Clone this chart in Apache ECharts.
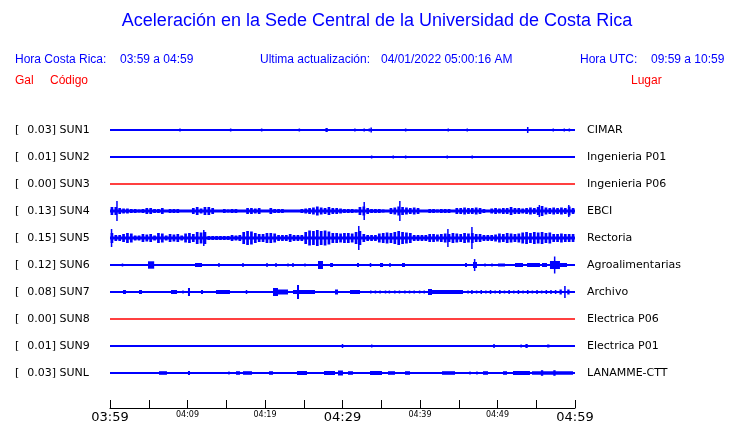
<!DOCTYPE html>
<html><head><meta charset="utf-8">
<script src="https://cdn.jsdelivr.net/npm/echarts@6/dist/echarts.min.js"></script>
<style>html,body{margin:0;padding:0;background:#fff}#c{width:740px;height:423px}</style>
</head><body><div id="c"></div>
<script>
// ---------- data ----------
const stations = ['SUN1','SUN2','SUN3','SUN4','SUN5','SUN6','SUN7','SUN8','SUN9','SUNL'];
const peakGal = ['0.03','0.01','0.00','0.13','0.15','0.12','0.08','0.00','0.01','0.03'];
const places = ['CIMAR','Ingenieria P01','Ingenieria P06','EBCI','Rectoria','Agroalimentarias','Archivo','Electrica P06','Electrica P01','LANAMME-CTT'];
const tickLabels = ['03:59','','04:09','','04:19','','04:29','','04:39','','04:49','','04:59'];
const majorLabels = ['03:59','04:29','04:59'];

// envelope (half amplitude) every 0.5 minute
const envStep = 0.5;
const sun4Env = [4,4,3,2.5,2.5,2,2,1.5,2,3, 3,2,2,3,0.8,2,2,2,0.8,0.8, 0.8,3,4,2.5,4,4,3,0.8,0.8,2,
  1.5,2,2,0.8,0.8,3,3,2.5,3,1, 1,3,2,2,2,0.8,0.8,0.8,0.8,2, 2.5,3,3.5,4.5,3.5,3,4,3,3,2.5,
  2,2,2,1.5,4,4.5,3,2,2,2, 1.5,0.8,3,3.5,4.5,4,3.5,3,3.5,3, 0.8,0.8,2,2,1.5,2,2,2,1,3,
  3,3.5,3,3,3.5,3,2,1,2.5,3, 2.5,3,3,4,3,3,2.5,3,3.5,3, 4,5,3.5,3,3.5,3,3.5,3,4.5,3];
const sun5Env = [5,3,3,4,5,4.5,2.5,2.5,4,3.5, 4,2.5,5,4.5,2.5,4,3.5,4,2.5,4.5, 5,4,6,5.5,6,2,2,2,2,2,
  2,3,2.5,3,6,7,6.5,5,4,4, 5,5,4.5,3,3,3,4,3,3,3, 6,7.5,7,8,7,7.5,6.5,5,5,4.5,
  5,5,4.5,6,7,4,3,3,3,4.5, 5,5.5,5,6,7,6,5.5,5,3,3, 3,3,4,4,3.5,4,4.5,4,5,4.5,
  4,5,4.5,5,4,4,3,3,3,3.5, 4.5,4,5,4.5,4,4.5,5.5,6,5,6, 5.5,6,5,5.5,4,4,4.5,4,4,4];
const sun4Spikes = [[0.9,10],[32.8,9],[37.4,10],[55.4,6],[59.2,6]];
const sun5Spikes = [[0.2,9],[12.1,8],[32.1,12],[43.6,9],[46.7,11]];

// sparse events: [start minute, end minute, half amplitude]
const sun1Events = [[9.03,9.03,1.5],[15.57,15.57,1.5],[19.57,19.57,1.5],[24.43,24.43,1.5],[27.8,28.1,2],[31.6,31.6,1.5],[32.7,32.9,1.5],[33.46,33.46,1.5],[33.6,33.8,2.5],[38.15,38.15,1.5],[43.65,43.65,1.5],[46.1,46.1,1.5],[53.8,54.0,3],[57.2,57.2,1.5],[58.62,58.62,1.5],[59.27,59.27,1.5]];
const sun2Events = [[33.76,33.76,1.5],[36.55,36.55,1.5],[38.15,38.15,1.5],[43.52,43.52,1.5],[46.74,46.74,1.5]];
const sun3Events = [];
const sun6Events = [[1.61,1.61,1.5],[4.9,5.7,3.7],[10.97,11.87,2],[14.06,14.06,2],[17.16,17.16,2],[18.58,18.58,1],[20.26,20.26,2],[21.42,21.42,2],[22.97,22.97,1.5],[23.61,23.61,2],[25.16,25.16,1.5],[25.81,25.81,1],[26.84,27.48,4],[28.4,28.77,2],[31.87,32.13,2],[33.55,33.68,2],[34.84,35.23,2],[36.13,36.13,2],[37.68,38.06,2],[39.35,39.35,1],[41.55,41.55,1],[44.9,44.9,1],[45.81,46.06,2],[46.84,47.35,3],[47.0,47.1,6],[48.39,48.39,1.5],[49.29,49.29,1.5],[50.06,50.97,1.5],[52.26,53.29,2],[53.81,55.48,2],[55.74,56.39,2],[56.77,58.06,4],[57.3,57.45,8.5],[58.06,58.97,2]];
const sun7Events = [[0.35,0.35,1],[1.68,2.06,2],[3.74,4.13,2],[6.71,6.71,1],[7.1,7.1,1],[7.48,7.48,1],[7.87,8.65,2],[9.42,9.42,1.5],[10.06,10.32,4],[10.84,10.84,1],[11.74,12.0,2],[13.68,15.48,2],[17.55,17.68,2],[18.97,18.97,1],[21.03,21.68,4],[21.68,22.97,2.5],[23.61,26.45,2],[24.13,24.39,7],[27.1,27.1,1],[28.0,28.0,1],[28.39,28.39,1],[29.03,29.42,2.5],[30.06,30.06,1],[30.97,32.26,2],
  [33.6,33.7,1.5],[34.2,34.3,1.5],[34.8,34.9,1.5],[35.5,35.6,1.5],[36.0,36.1,1.5],[36.7,36.8,1.5],[37.3,37.4,1.5],[38.0,38.1,1.5],[38.6,38.7,1.5],[39.2,39.3,1.5],[39.9,40.0,1.5],[40.5,40.6,1.5],[41.03,41.55,3],[41.55,45.55,2],
  [46.1,46.3,1.5],[46.6,46.8,2],[47.2,47.4,1.5],[47.8,48.0,2],[48.4,48.6,1.5],[49.0,49.2,2],[49.6,49.8,1.5],[50.2,50.4,2],[50.8,51.0,1.5],[51.4,51.6,2],[52.0,52.2,1.5],[52.6,52.8,2],[53.2,53.4,1.5],[53.8,54.0,2],[54.4,54.6,1.5],[55.0,55.2,2],[55.6,55.8,1.5],[56.2,56.4,2],[56.8,57.0,2],[57.4,57.6,2],[58.0,58.3,2.5],[58.6,58.8,6],[59.0,59.3,2.5]];
const sun8Events = [];
const sun9Events = [[28.09,28.09,1],[29.94,30.06,2],[33.77,33.77,1.5],[38.15,38.15,1],[49.45,49.65,2],[53.0,53.1,1.5],[53.6,53.9,2],[55.23,55.23,1],[56.4,56.7,1.5]];
const sunLEvents = [[6.32,7.35,1.8],[10.06,10.32,2],[15.35,15.35,1.5],[16.26,16.77,1.8],[17.16,18.32,1.8],[18.45,18.45,1],[20.52,21.03,1.8],[24.13,25.42,2],[27.61,29.03,2],[29.42,30.06,2.5],[30.71,31.35,1.8],[33.55,35.1,2],[35.87,36.77,1.8],[38.06,38.71,1.8],[42.84,44.52,1.8],[46.45,46.45,1.5],[47.35,47.35,1.5],[48.13,48.77,1.8],[49.94,49.94,1],[50.71,51.23,1.8],[52.0,54.19,2],[54.45,59.74,1.8],[55.6,55.9,2.8],[57.2,57.5,2.8]];

// ---------- build ----------
const BLUE = '#0000ff', RED = '#ff0000';
const K = 1 / 27; // amplitude units -> row units
const rowEvents = [sun1Events, sun2Events, sun3Events, null, null, sun6Events, sun7Events, sun8Events, sun9Events, sunLEvents];
const evData = [];
rowEvents.forEach((evs, r) => { if (evs) evs.forEach(e => evData.push([e[0], e[1], r, e[2], 0])); });
sun4Env.forEach((a, i) => evData.push([i * envStep, (i + 1) * envStep, 3, a, 1]));
sun5Env.forEach((a, i) => evData.push([i * envStep, (i + 1) * envStep, 4, a, 1]));
sun4Spikes.forEach(s => evData.push([s[0], s[0], 3, s[1], 0]));
sun5Spikes.forEach(s => evData.push([s[0], s[0], 4, s[1], 0]));

const denseRows = [3, 4];
const rowColor = r => (parseFloat(peakGal[r]) === 0 ? RED : BLUE);

const baseSeries = stations.map((s, r) => ({
  type: 'line', name: s, data: [[0, r], [60, r]], showSymbol: false, symbol: 'none',
  lineStyle: { color: rowColor(r), width: denseRows.includes(r) ? 3 : (rowColor(r) === RED ? 1.5 : 2) },
  silent: true, z: 2, animation: false
}));

function renderItem(params, api) {
  const t0 = api.value(0), t1 = api.value(1), row = api.value(2), amp = api.value(3), dense = api.value(4);
  const a = api.coord([t0, row - amp * K]);
  const b = api.coord([t1, row + amp * K]);
  let x = Math.min(a[0], b[0]), w = Math.abs(b[0] - a[0]);
  if (dense) { x += w * 0.15; w = w * 0.7; }
  if (w < 1.5) { x = x + w / 2 - 0.75; w = 1.5; }
  const y = Math.min(a[1], b[1]), h = Math.abs(b[1] - a[1]);
  return { type: 'rect', shape: { x: x, y: y, width: w, height: h }, style: { fill: BLUE } };
}

const SANS = 'Liberation Sans, Arial, sans-serif';
const DJ = 'DejaVu Sans, sans-serif';

function rowIdx(v) { const i = Math.round(v); return (Math.abs(v - i) < 1e-6 && i >= 0 && i < stations.length) ? i : -1; }

const chart = echarts.init(document.getElementById('c'));
chart.setOption({
  animation: false,
  backgroundColor: '#fff',
  grid: { left: 110, right: 165, top: 103, bottom: 15, containLabel: false, outerBoundsMode: 'none' },
  xAxis: {
    type: 'value', min: 0, max: 60, interval: 5, position: 'bottom',
    axisLine: { show: true, onZero: false, lineStyle: { color: '#000', width: 1 } },
    axisTick: { show: true, inside: true, length: 8, lineStyle: { color: '#000', width: 1 } },
    splitLine: { show: false },
    axisLabel: {
      margin: 3, showMinLabel: true, showMaxLabel: true,
      formatter: v => { const s = tickLabels[Math.round(v / 5)]; if (!s) return ''; return majorLabels.includes(s) ? '{b|' + s + '}' : '{s|' + s + '}'; },
      rich: {
        b: { fontFamily: DJ, fontSize: 13, color: '#000' },
        s: { fontFamily: DJ, fontSize: 8, color: '#000' }
      }
    }
  },
  yAxis: [
    { type: 'value', inverse: true, min: -1, max: 10.2963, interval: 1, position: 'left',
      axisLine: { show: false }, axisTick: { show: false }, splitLine: { show: false },
      axisLabel: { align: 'left', margin: 95, color: '#000',
        formatter: v => { const i = rowIdx(v); return i < 0 ? '' : '{a|[}{b|' + peakGal[i] + '] ' + stations[i] + '}'; },
        rich: { a: { width: 12.3, fontFamily: DJ, fontSize: 11, color: '#000' }, b: { fontFamily: DJ, fontSize: 11, color: '#000' } } } },
    { type: 'value', inverse: true, min: -1, max: 10.2963, interval: 1, position: 'right',
      axisLine: { show: false }, axisTick: { show: false }, splitLine: { show: false },
      axisLabel: { align: 'left', margin: 12, color: '#000', fontFamily: DJ, fontSize: 11,
        formatter: v => { const i = rowIdx(v); return i < 0 ? '' : places[i]; } } }
  ],
  series: baseSeries.concat([{
    type: 'custom', renderItem: renderItem, data: evData, encode: { x: [0, 1], y: 2 }, z: 3, silent: true
  }]),
  graphic: [
    { type: 'text', x: 377, y: 21, style: { text: 'Aceleración en la Sede Central de la Universidad de Costa Rica', fill: BLUE, font: '18px ' + SANS, textAlign: 'center', textVerticalAlign: 'middle' } },
    { type: 'text', x: 15, y: 60, style: { text: 'Hora Costa Rica:', fill: BLUE, font: '12px ' + SANS, textVerticalAlign: 'middle' } },
    { type: 'text', x: 120, y: 60, style: { text: '03:59 a 04:59', fill: BLUE, font: '12px ' + SANS, textVerticalAlign: 'middle' } },
    { type: 'text', x: 260, y: 60, style: { text: 'Ultima actualización:', fill: BLUE, font: '12px ' + SANS, textVerticalAlign: 'middle' } },
    { type: 'text', x: 381, y: 60, style: { text: '04/01/2022 05:00:16 AM', fill: BLUE, font: '12px ' + SANS, textVerticalAlign: 'middle' } },
    { type: 'text', x: 580, y: 60, style: { text: 'Hora UTC:', fill: BLUE, font: '12px ' + SANS, textVerticalAlign: 'middle' } },
    { type: 'text', x: 651, y: 60, style: { text: '09:59 a 10:59', fill: BLUE, font: '12px ' + SANS, textVerticalAlign: 'middle' } },
    { type: 'text', x: 15, y: 81, style: { text: 'Gal', fill: RED, font: '12px ' + SANS, textVerticalAlign: 'middle' } },
    { type: 'text', x: 50, y: 81, style: { text: 'Código', fill: RED, font: '12px ' + SANS, textVerticalAlign: 'middle' } },
    { type: 'text', x: 631, y: 81, style: { text: 'Lugar', fill: RED, font: '12px ' + SANS, textVerticalAlign: 'middle' } }
  ]
});
</script></body></html>
